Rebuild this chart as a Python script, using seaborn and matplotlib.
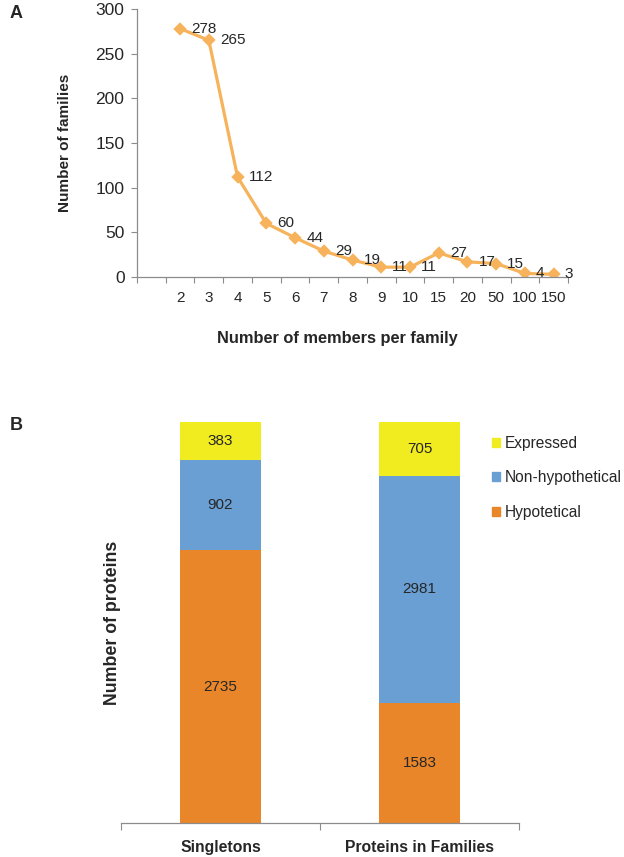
import numpy as np
import pandas as pd
import matplotlib
matplotlib.use("Agg")
import matplotlib.pyplot as plt
import seaborn as sns
from matplotlib.patches import Patch

# panel A data
member_labels = ['2', '3', '4', '5', '6', '7', '8', '9', '10', '15', '20', '50', '100', '150']
family_counts = [278, 265, 112, 60, 44, 29, 19, 11, 11, 27, 17, 15, 4, 3]

# panel B data
groups = ['Singletons', 'Proteins in Families']
hypothetical = [2735, 1583]
non_hypothetical = [902, 2981]
expressed = [383, 705]

sns.set_theme(style='white')
plt.rcParams['font.family'] = ['Liberation Sans', 'DejaVu Sans']

axis_grey = '#8c8c8c'
line_col = '#f7b35c'
c_yellow = '#f1ec1f'
c_blue = '#6a9fd4'
c_orange = '#e9862a'

fig = plt.figure(figsize=(6.24, 8.57), dpi=100)
W, H = 624, 857

def px_axes(l, t, r, b):
    return fig.add_axes([l / W, 1 - b / H, (r - l) / W, (b - t) / H])

# ---------------- panel A ----------------
ax1 = px_axes(137, 9, 568, 277)
sns.pointplot(x=member_labels, y=family_counts, order=member_labels,
              color=line_col, markers='D', markersize=5.5, linewidth=2.3,
              errorbar=None, ax=ax1)
ax1.set_xlim(-1.5, 13.5)
ax1.set_ylim(0, 300)
ax1.set_yticks(np.arange(0, 301, 50))
ax1.set_xticks(np.arange(-1.5, 13.6, 1))
ax1.set_xticklabels([])
ax1.set_xticks(np.arange(len(member_labels)), member_labels, minor=True)
ax1.tick_params(axis='x', which='major', direction='out', length=4, width=0.8,
                color=axis_grey, bottom=True)
ax1.tick_params(axis='x', which='minor', length=0, pad=10, labelsize=11, bottom=True)
ax1.tick_params(axis='y', direction='out', length=4, width=0.8, color=axis_grey,
                left=True, pad=5, labelsize=12.5)
for s in ['top', 'right']:
    ax1.spines[s].set_visible(False)
for s in ['left', 'bottom']:
    ax1.spines[s].set_color(axis_grey)
    ax1.spines[s].set_linewidth(0.9)

for i, v in enumerate(family_counts):
    ax1.annotate(str(v), (i, v), xytext=(8, 0), textcoords='offset points',
                 ha='left', va='center', fontsize=11)

ax1.set_ylabel('Number of families', fontsize=11, fontweight='bold')
ax1.yaxis.set_label_coords(-0.15, 0.5)
ax1.set_xlabel('Number of members per family', fontsize=11.8, fontweight='bold')
ax1.xaxis.set_label_coords(0.464, -0.2)

fig.text(10 / W, 1 - 14 / H, 'A', fontsize=13, fontweight='bold', va='center')

# ---------------- panel B ----------------
df = pd.DataFrame({'group': groups, 'hyp': hypothetical,
                   'nonhyp': non_hypothetical, 'expr': expressed})
df['total'] = df['hyp'] + df['nonhyp'] + df['expr']
df['p_hyp'] = df['hyp'] / df['total']
df['p_nonhyp'] = (df['hyp'] + df['nonhyp']) / df['total']
df['p_all'] = 1.0

ax2 = px_axes(121, 422, 519, 823)
sns.barplot(data=df, x='group', y='p_all', order=groups, color=c_yellow,
            saturation=1, width=0.41, linewidth=0, ax=ax2)
sns.barplot(data=df, x='group', y='p_nonhyp', order=groups, color=c_blue,
            saturation=1, width=0.41, linewidth=0, ax=ax2)
sns.barplot(data=df, x='group', y='p_hyp', order=groups, color=c_orange,
            saturation=1, width=0.41, linewidth=0, ax=ax2)
ax2.set_xlim(-0.5, 1.5)
ax2.set_ylim(0, 1)
ax2.set_yticks([])
ax2.set_xticks([-0.5, 0.5, 1.5])
ax2.set_xticklabels([])
ax2.set_xticks([0, 1], groups, minor=True)
ax2.tick_params(axis='x', which='major', direction='out', length=5, width=0.8,
                color=axis_grey, bottom=True)
ax2.tick_params(axis='x', which='minor', length=0, pad=12, labelsize=11.3, bottom=True)
for lab in ax2.get_xticklabels(minor=True):
    lab.set_fontweight('bold')
for s in ['top', 'right', 'left']:
    ax2.spines[s].set_visible(False)
ax2.spines['bottom'].set_color(axis_grey)
ax2.spines['bottom'].set_linewidth(0.9)
ax2.set_xlabel('')

for i, row in df.iterrows():
    ax2.text(i, row['p_hyp'] / 2, str(row['hyp']), ha='center', va='center', fontsize=11)
    ax2.text(i, (row['p_hyp'] + row['p_nonhyp']) / 2, str(row['nonhyp']),
             ha='center', va='center', fontsize=11)
    ax2.text(i, (row['p_nonhyp'] + 1) / 2, str(row['expr']),
             ha='center', va='center', fontsize=11)

ax2.set_ylabel('Number of proteins', fontsize=12.8, fontweight='bold')
ax2.yaxis.set_label_coords(0.0, 0.5)

handles = [Patch(color=c_yellow, label='Expressed'),
           Patch(color=c_blue, label='Non-hypothetical'),
           Patch(color=c_orange, label='Hypotetical')]
fig.legend(handles=handles, loc='upper left', bbox_to_anchor=(492 / W, 1 - 436 / H),
           frameon=False, fontsize=11.2, handlelength=0.5, handleheight=0.5,
           handletextpad=0.3, labelspacing=1.25, borderaxespad=0, borderpad=0)

fig.text(10 / W, 1 - 426 / H, 'B', fontsize=13, fontweight='bold', va='center')

fig.savefig('out.png', dpi=100)
